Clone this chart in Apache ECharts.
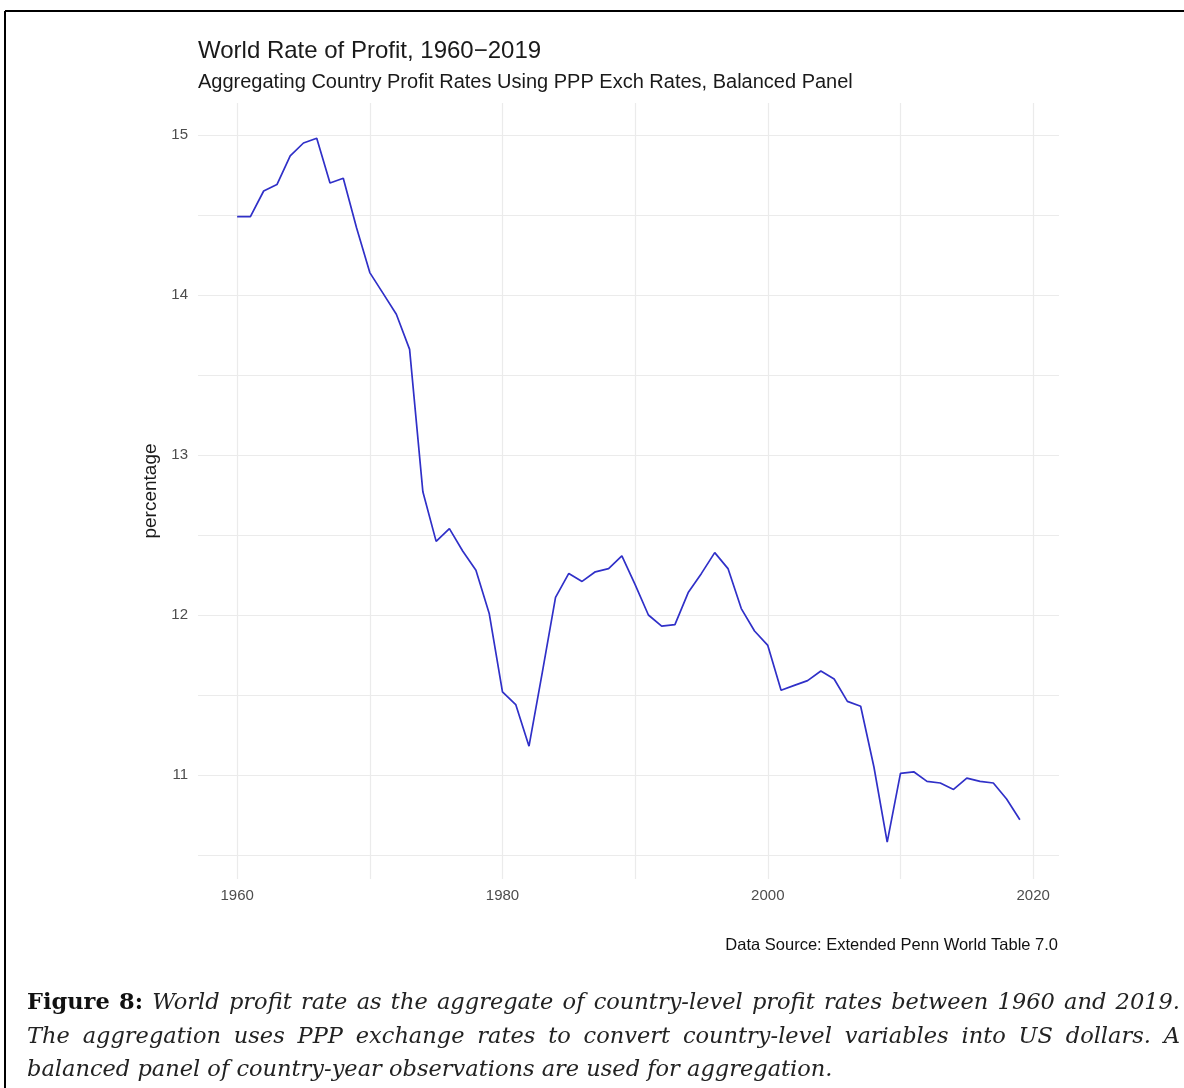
<!DOCTYPE html>
<html>
<head>
<meta charset="utf-8">
<title>World Rate of Profit</title>
<script src="https://cdn.jsdelivr.net/npm/echarts@6/dist/echarts.min.js"></script>
<style>
  html, body { margin: 0; padding: 0; background: #fff; }
  #chart { width: 1184px; height: 1088px; }
</style>
</head>
<body>
<div id="chart"></div>
<script>
// years 1960..2019
const years = []
for (let y = 1960; y <= 2019; y++) years.push(y)

// profit rate (%)
const profitRate = [
  14.49, 14.49, 14.65, 14.69, 14.87, 14.95, 14.98, 14.70, 14.73, 14.42,
  14.14, 14.01, 13.88, 13.66, 12.77, 12.46, 12.54, 12.40, 12.28, 12.01,
  11.52, 11.44, 11.18, 11.64, 12.11, 12.26, 12.21, 12.27, 12.29, 12.37,
  12.19, 12.00, 11.93, 11.94, 12.14, 12.26, 12.39, 12.29, 12.04, 11.90,
  11.81, 11.53, 11.56, 11.59, 11.65, 11.60, 11.46, 11.43, 11.05, 10.58,
  11.01, 11.02, 10.96, 10.95, 10.91, 10.98, 10.96, 10.95, 10.85, 10.72
]

const xTickLabels = [1960, 1980, 2000, 2020]
const yTickLabels = [11, 12, 13, 14, 15]
const xGrid = [1960, 1970, 1980, 1990, 2000, 2010, 2020]
const yGrid = [10.5, 11, 11.5, 12, 12.5, 13, 13.5, 14, 14.5, 15]

const seriesData = years.map((y, i) => [y, profitRate[i]])

const gridLines = []
xGrid.forEach(v => gridLines.push({ xAxis: v }))
yGrid.forEach(v => gridLines.push({ yAxis: v }))

// caption below the plot, set justified like the LaTeX original
const capSize = 22.5
const capFonts = {
  b: 'bold ' + capSize + 'px "DejaVu Serif"',
  i: 'italic ' + capSize + 'px "DejaVu Serif"'
}
const ctx = document.createElement('canvas').getContext('2d')

function words(str, style) {
  return str.split(' ').map(t => ({ t, s: style }))
}

function captionLine(tokens, target) {
  let sum = 0
  tokens.forEach(tk => {
    ctx.font = capFonts[tk.s]
    sum += ctx.measureText(tk.t).width
  })
  let gap = ctx.measureText(' ').width
  if (target) gap = (target - sum) / (tokens.length - 1)
  return {
    text: tokens.map(tk => '{' + tk.s + '|' + tk.t + '}').join('{g|\u00a0}'),
    rich: {
      b: { fontFamily: 'DejaVu Serif', fontWeight: 'bold', fontSize: capSize, fill: '#111' },
      i: { fontFamily: 'DejaVu Serif', fontStyle: 'italic', fontSize: capSize, fill: '#222' },
      g: { fontFamily: 'DejaVu Serif', fontSize: capSize, width: gap }
    }
  }
}

const cap1 = captionLine(
  words('Figure 8:', 'b').concat(words('World profit rate as the aggregate of country-level profit rates between 1960 and 2019.', 'i')),
  1153
)
const cap2 = captionLine(
  words('The aggregation uses PPP exchange rates to convert country-level variables into US dollars. A', 'i'),
  1153
)
const cap3 = captionLine(
  words('balanced panel of country-year observations are used for aggregation.', 'i'),
  0
)

const chart = echarts.init(document.getElementById('chart'))
chart.setOption({
  backgroundColor: '#ffffff',
  animation: false,
  title: {
    text: 'World Rate of Profit, 1960\u22122019',
    subtext: 'Aggregating Country Profit Rates Using PPP Exch Rates, Balanced Panel',
    left: 198,
    top: 39,
    itemGap: 9,
    padding: 0,
    textStyle: {
      fontFamily: 'Liberation Sans',
      fontSize: 24,
      fontWeight: 'normal',
      color: '#1a1a1a'
    },
    subtextStyle: {
      fontFamily: 'Liberation Sans',
      fontSize: 20,
      color: '#1a1a1a'
    }
  },
  grid: {
    left: 198,
    right: 125,
    top: 103,
    height: 776
  },
  xAxis: {
    type: 'value',
    min: 1957.05,
    max: 2021.95,
    axisLine: { show: false },
    axisTick: { show: false },
    splitLine: { show: false },
    axisLabel: {
      customValues: xTickLabels,
      formatter: v => String(v),
      margin: 9,
      fontFamily: 'Liberation Sans',
      fontSize: 15,
      color: '#4d4d4d'
    }
  },
  yAxis: {
    type: 'value',
    min: 10.35,
    max: 15.2,
    name: 'percentage',
    nameLocation: 'middle',
    nameGap: 31,
    nameRotate: 90,
    nameTextStyle: {
      fontFamily: 'Liberation Sans',
      fontSize: 19,
      color: '#1a1a1a'
    },
    axisLine: { show: false },
    axisTick: { show: false },
    splitLine: { show: false },
    axisLabel: {
      customValues: yTickLabels,
      formatter: v => String(v),
      margin: 10,
      fontFamily: 'Liberation Sans',
      fontSize: 15,
      color: '#4d4d4d'
    }
  },
  series: [
    {
      type: 'line',
      data: seriesData,
      showSymbol: false,
      z: 3,
      lineStyle: {
        color: '#3030c8',
        width: 1.7
      },
      markLine: {
        silent: true,
        symbol: ['none', 'none'],
        label: { show: false },
        z: 1,
        lineStyle: {
          type: 'solid',
          color: '#ebebeb',
          width: 1.2
        },
        data: gridLines
      }
    }
  ],
  graphic: [
    {
      type: 'line',
      shape: { x1: 5, y1: 11, x2: 1184, y2: 11 },
      style: { stroke: '#000', lineWidth: 2 }
    },
    {
      type: 'line',
      shape: { x1: 5, y1: 11, x2: 5, y2: 1088 },
      style: { stroke: '#000', lineWidth: 2 }
    },
    {
      type: 'text',
      right: 126,
      top: 937,
      style: {
        text: 'Data Source: Extended Penn World Table 7.0',
        fontFamily: 'Liberation Sans',
        fontSize: 16.5,
        fill: '#111'
      }
    },
    {
      type: 'text',
      left: 27,
      top: 992,
      style: { text: cap1.text, rich: cap1.rich }
    },
    {
      type: 'text',
      left: 27,
      top: 1026,
      style: { text: cap2.text, rich: cap2.rich }
    },
    {
      type: 'text',
      left: 27,
      top: 1059,
      style: { text: cap3.text, rich: cap3.rich }
    }
  ]
})
</script>
</body>
</html>
